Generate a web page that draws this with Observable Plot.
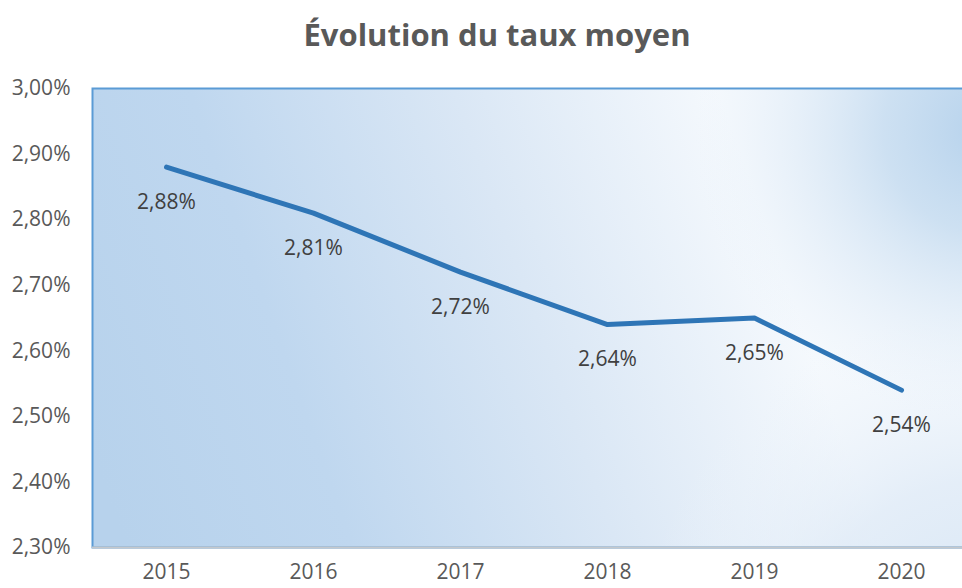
<!DOCTYPE html>
<html>
<head>
<meta charset="utf-8">
<script src="https://cdn.jsdelivr.net/npm/d3@7"></script>
<script src="https://cdn.jsdelivr.net/npm/@observablehq/plot@0.6"></script>
<style>
  html, body { margin: 0; padding: 0; background: #fff; overflow: hidden; width: 962px; height: 588px; }
  #title { height: 60px; box-sizing: border-box; padding-top: 11px; padding-left: 32px; text-align: center;
    font-family: "Open Sans", sans-serif; font-weight: 700; font-size: 31px; line-height: 46px; color: #595959; }
  #chart svg { display: block; overflow: hidden; }
</style>
</head>
<body>
<div id="title">Évolution du taux moyen</div>
<div id="chart"></div>
<script>
const years = ["2015", "2016", "2017", "2018", "2019", "2020"];
const rates = [2.88, 2.81, 2.72, 2.64, 2.65, 2.54];
const yTicks = [2.30, 2.40, 2.50, 2.60, 2.70, 2.80, 2.90, 3.00];

const data = years.map((y, i) => ({year: y, rate: rates[i]}));
const fmt = d => d.toFixed(2).replace(".", ",") + "%";

const chart = Plot.plot({
  width: 962,
  height: 528,
  marginLeft: 92,
  marginRight: -12,
  marginTop: 28,
  marginBottom: 41,
  style: {fontFamily: "'Open Sans', sans-serif", fontSize: "21px", color: "#595959", background: "transparent"},
  x: {type: "point", domain: years, padding: 0.5, label: null, tickSize: 0, tickPadding: 17},
  y: {domain: [2.30, 3.00], ticks: yTicks, tickFormat: fmt, label: null, tickSize: 0, tickPadding: 22},
  marks: [
    Plot.frame({fill: "url(#bgLin)"}),
    Plot.frame({fill: "url(#bgRad2)"}),
    Plot.frame({fill: "url(#bgRad)"}),
    Plot.frame({stroke: "#5B9BD5", strokeWidth: 2}),
    Plot.ruleY([2.30], {stroke: "#C4C8CC", strokeWidth: 2}),
    Plot.line(data, {x: "year", y: "rate", stroke: "#2E75B6", strokeWidth: 5, strokeLinecap: "round", strokeLinejoin: "round"}),
    Plot.text(data, {x: "year", y: "rate", text: d => fmt(d.rate), dy: 35, fill: "#404040", fontSize: 21})
  ]
});

const ns = "http://www.w3.org/2000/svg";
const defs = document.createElementNS(ns, "defs");
defs.innerHTML = `
  <linearGradient id="bgLin" gradientUnits="userSpaceOnUse" x1="120" y1="470" x2="790" y2="230">
    <stop offset="0" stop-color="#B7D2EC"/>
    <stop offset="0.3" stop-color="#BFD7EF"/>
    <stop offset="0.65" stop-color="#DAE7F5"/>
    <stop offset="1" stop-color="#F5F9FD"/>
  </linearGradient>
  <radialGradient id="bgRad" gradientUnits="userSpaceOnUse" cx="985" cy="70" r="290">
    <stop offset="0" stop-color="#B6D2EC" stop-opacity="1"/>
    <stop offset="0.35" stop-color="#C6DCF0" stop-opacity="0.85"/>
    <stop offset="1" stop-color="#E6EFF9" stop-opacity="0"/>
  </radialGradient>
  <radialGradient id="bgRad2" gradientUnits="userSpaceOnUse" cx="980" cy="590" r="340">
    <stop offset="0" stop-color="#D6E5F4" stop-opacity="1"/>
    <stop offset="0.5" stop-color="#DDE9F6" stop-opacity="0.7"/>
    <stop offset="1" stop-color="#EEF4FB" stop-opacity="0"/>
  </radialGradient>`;
chart.insertBefore(defs, chart.firstChild);
chart.querySelectorAll("g[aria-label='x-axis tick label'] text, g[aria-label='y-axis tick label'] text").forEach(t => t.setAttribute("fill", "#595959"));
document.getElementById("chart").appendChild(chart);
</script>
</body>
</html>
